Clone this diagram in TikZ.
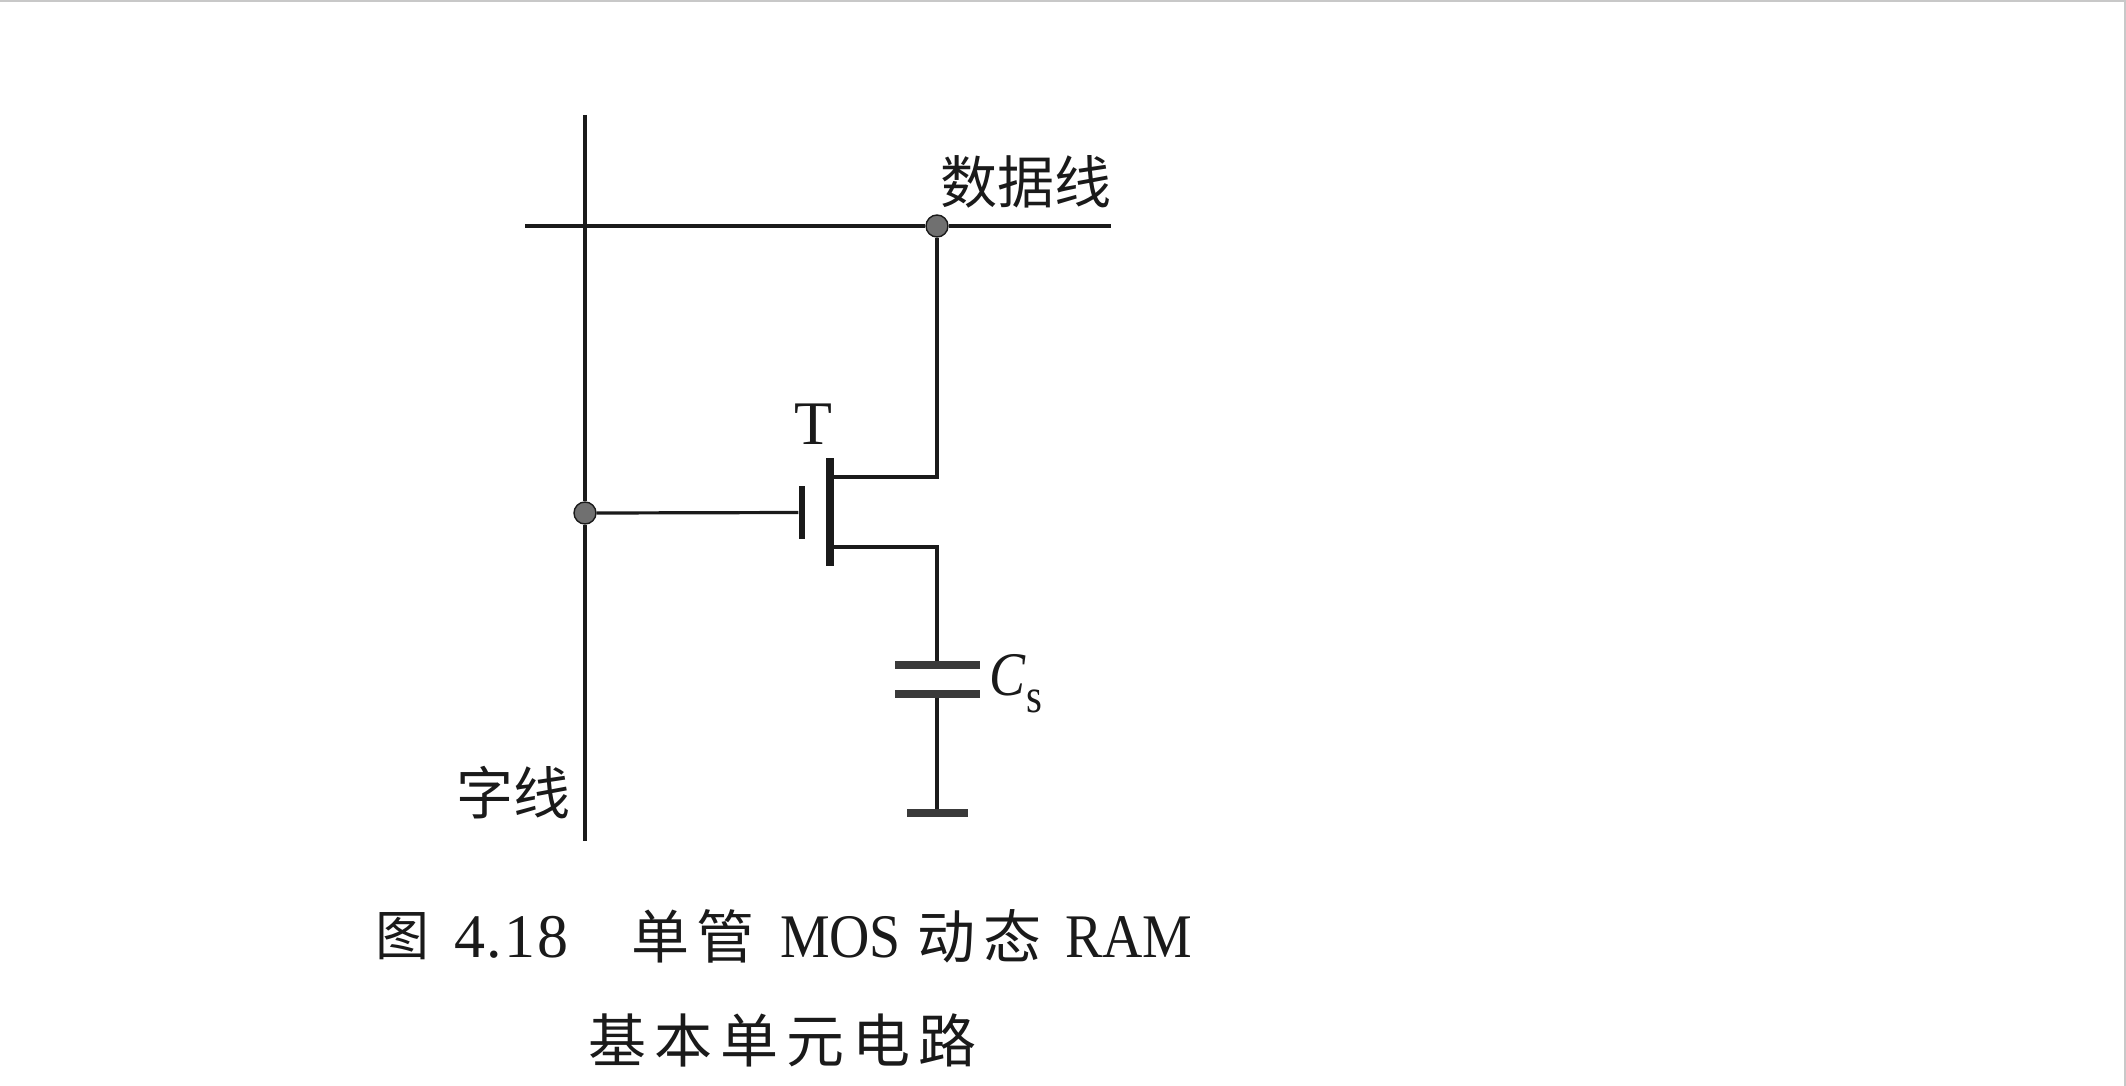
\documentclass[tikz,border=0pt]{standalone}
\usepackage{fontspec}
\usepackage{graphicx}
\setmainfont{Liberation Serif}
\newfontfamily\cjk{Noto Sans CJK SC}
\usetikzlibrary{calc}
\definecolor{ink}{HTML}{1A1A1A}
\definecolor{plate}{HTML}{3A3A3A}
\definecolor{dotgrey}{HTML}{707070}
\definecolor{scanedge}{HTML}{C8C8C8}
\tikzset{
  x=0.5pt,y=-0.5pt,
  wire/.style={draw=ink,line width=1.6pt},
  junction/.style={circle,draw=ink,fill=dotgrey,line width=0.7pt,minimum size=11pt,inner sep=0pt},
  barbox/.style={rectangle,fill=ink,inner sep=0pt},
  platebar/.style={rectangle,fill=plate,inner sep=0pt,minimum height=3.6pt},
  txtbase/.style={inner sep=0pt,outer sep=0pt,text=ink},
  lbltext/.style={txtbase,font=\fontsize{28.5}{30}\selectfont\cjk},
  captext/.style={txtbase,font=\fontsize{29}{31}\selectfont\cjk},
  latintext/.style={txtbase,font=\fontsize{31}{33}\selectfont},
}
\newcommand{\narrowtext}[1]{\scalebox{0.9}[1]{#1}}
\newcommand{\gapc}{\hspace{4pt}}
\begin{document}
\begin{tikzpicture}
\useasboundingbox (0,0) rectangle (2126,1086);
% scan edges
\draw[scanedge,line width=1pt] (0,1) -- (2125,1) -- (2125,1086);
% junctions and bars
\node[junction] (dotD) at (937,226) {};
\node[junction] (dotW) at (585,513) {};
\node[barbox,minimum width=4pt,minimum height=54pt] (chan) at (830,512) {};
\node[barbox,minimum width=3.2pt,minimum height=26.5pt] (gate) at (802,512.5) {};
\node[platebar,minimum width=42.5pt] (capT) at (937,665) {};
\node[platebar,minimum width=42.5pt] (capB) at (937,694) {};
\node[platebar,minimum width=30.5pt] (gnd) at (937,813) {};
% free ends
\coordinate (wlTop) at (585,115);
\coordinate (wlBot) at (585,841);
\coordinate (dlL) at (525,226);
\coordinate (dlR) at (1111,226);
\coordinate (drainU) at (chan.east |- 0,477);
\coordinate (drainL) at (chan.east |- 0,547);
% connectors
\draw[wire] (wlTop) -- (dotW.north);
\draw[wire] (dotW.south) -- (wlBot);
\draw[wire] (dlL) -- (dotD.west);
\draw[wire] (dotD.east) -- (dlR);
\draw[wire] (dotW.east) -- (gate.west);
\draw[wire] (dotD.south) |- (drainU);
\draw[wire] (drainL) -| (capT.north);
\draw[wire] (capB.south) -- (gnd.north);
% labels
\node[lbltext] (shuju) at (1026,182) {数据线};
\node[lbltext] (zixian) at (513.5,793) {字线};
\node[latintext] (T) at (813,424) {T};
\node[txtbase,anchor=base west,font=\fontsize{31}{33}\selectfont] (Cs) at (989,695) {\scalebox{0.87}[1]{\textit{C}}};
\node[txtbase,anchor=base west,font=\fontsize{24}{26}\selectfont] (Css) at (1026,712) {\scalebox{0.85}[1]{s}};
% caption
\node[captext,font=\fontsize{27}{29}\selectfont\cjk] (c1) at (402.5,936) {图};
\node[latintext,anchor=base west] (c2) at (454,957) {4\hspace{1pt}.\hspace{1pt}1\hspace{1pt}8};
\node[captext] (c3) at (693,936) {单\gapc 管};
\node[latintext,anchor=base west] (c4) at (780,957) {\narrowtext{MOS}};
\node[captext] (c5) at (979.5,936) {动\gapc 态};
\node[latintext,anchor=base west] (c6) at (1065,957) {\narrowtext{RAM}};
\node[captext] (c7) at (782.5,1040) {基\gapc 本\gapc 单\gapc 元\gapc 电\gapc 路};
\end{tikzpicture}
\end{document}
